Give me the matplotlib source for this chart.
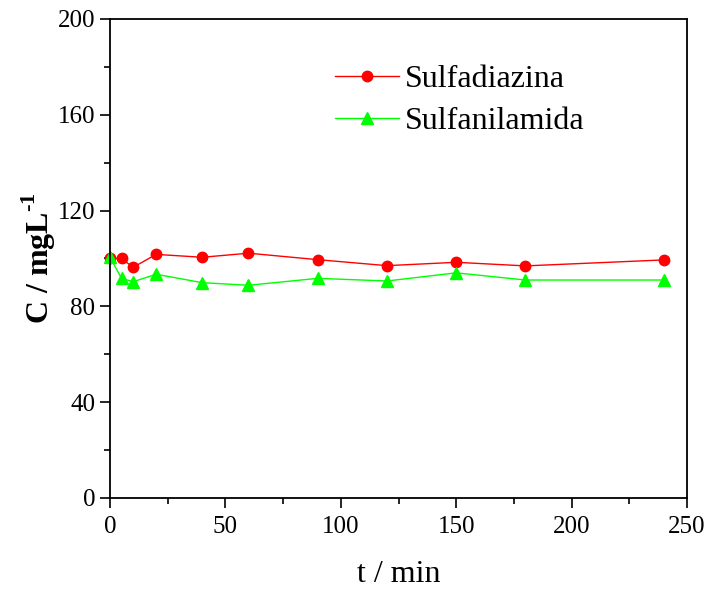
import matplotlib
matplotlib.use("Agg")
import matplotlib.pyplot as plt
from matplotlib.ticker import MultipleLocator

plt.rcParams['font.family'] = ['Liberation Serif', 'DejaVu Serif']
plt.rcParams['mathtext.fontset'] = 'custom'
plt.rcParams['mathtext.rm'] = 'Liberation Serif'
plt.rcParams['mathtext.bf'] = 'Liberation Serif:bold'

# time points (min)
t = [0, 5, 10, 20, 40, 60, 90, 120, 150, 180, 240]
# concentration (mg/L)
sulfadiazina = [100.0, 100.0, 96.3, 101.7, 100.5, 102.2, 99.5, 97.0, 98.4, 96.9, 99.4]
sulfanilamida = [100.5, 91.7, 90.3, 93.4, 89.9, 88.8, 91.7, 90.6, 94.0, 91.0, 91.0]

fig = plt.figure(figsize=(7.07, 5.92), dpi=100)
ax = fig.add_axes([0.1556, 0.1588, 0.8161, 0.8092])

ax.plot(t, sulfadiazina, color='red', marker='o', markersize=7.5, linewidth=1,
        label='Sulfadiazina', clip_on=False)
ax.plot(t, sulfanilamida, color='#00ff00', marker='^', markersize=8.5, linewidth=1,
        label='Sulfanilamida', clip_on=False)

ax.set_xlim(0, 250)
ax.set_ylim(0, 200)
ax.xaxis.set_major_locator(MultipleLocator(50))
ax.xaxis.set_minor_locator(MultipleLocator(25))
ax.yaxis.set_major_locator(MultipleLocator(40))
ax.yaxis.set_minor_locator(MultipleLocator(20))
ax.tick_params(which='major', direction='out', length=7, width=1.2, labelsize=18)
ax.tick_params(axis='x', which='major', pad=6)
ax.tick_params(which='minor', direction='out', length=4, width=1.2)
for s in ax.spines.values():
    s.set_linewidth(1.3)

ax.set_xlabel('t / min', fontsize=23, labelpad=16)
ax.set_ylabel(r'C / mgL$^{\mathbf{\text{-}1}}$', fontsize=23, fontweight='bold', labelpad=0)

ax.legend(loc='upper left', bbox_to_anchor=(0.34, 0.965), frameon=False, fontsize=23,
          handlelength=2.0, handletextpad=0.2, labelspacing=0.4)

fig.savefig('out.png', dpi=100)
